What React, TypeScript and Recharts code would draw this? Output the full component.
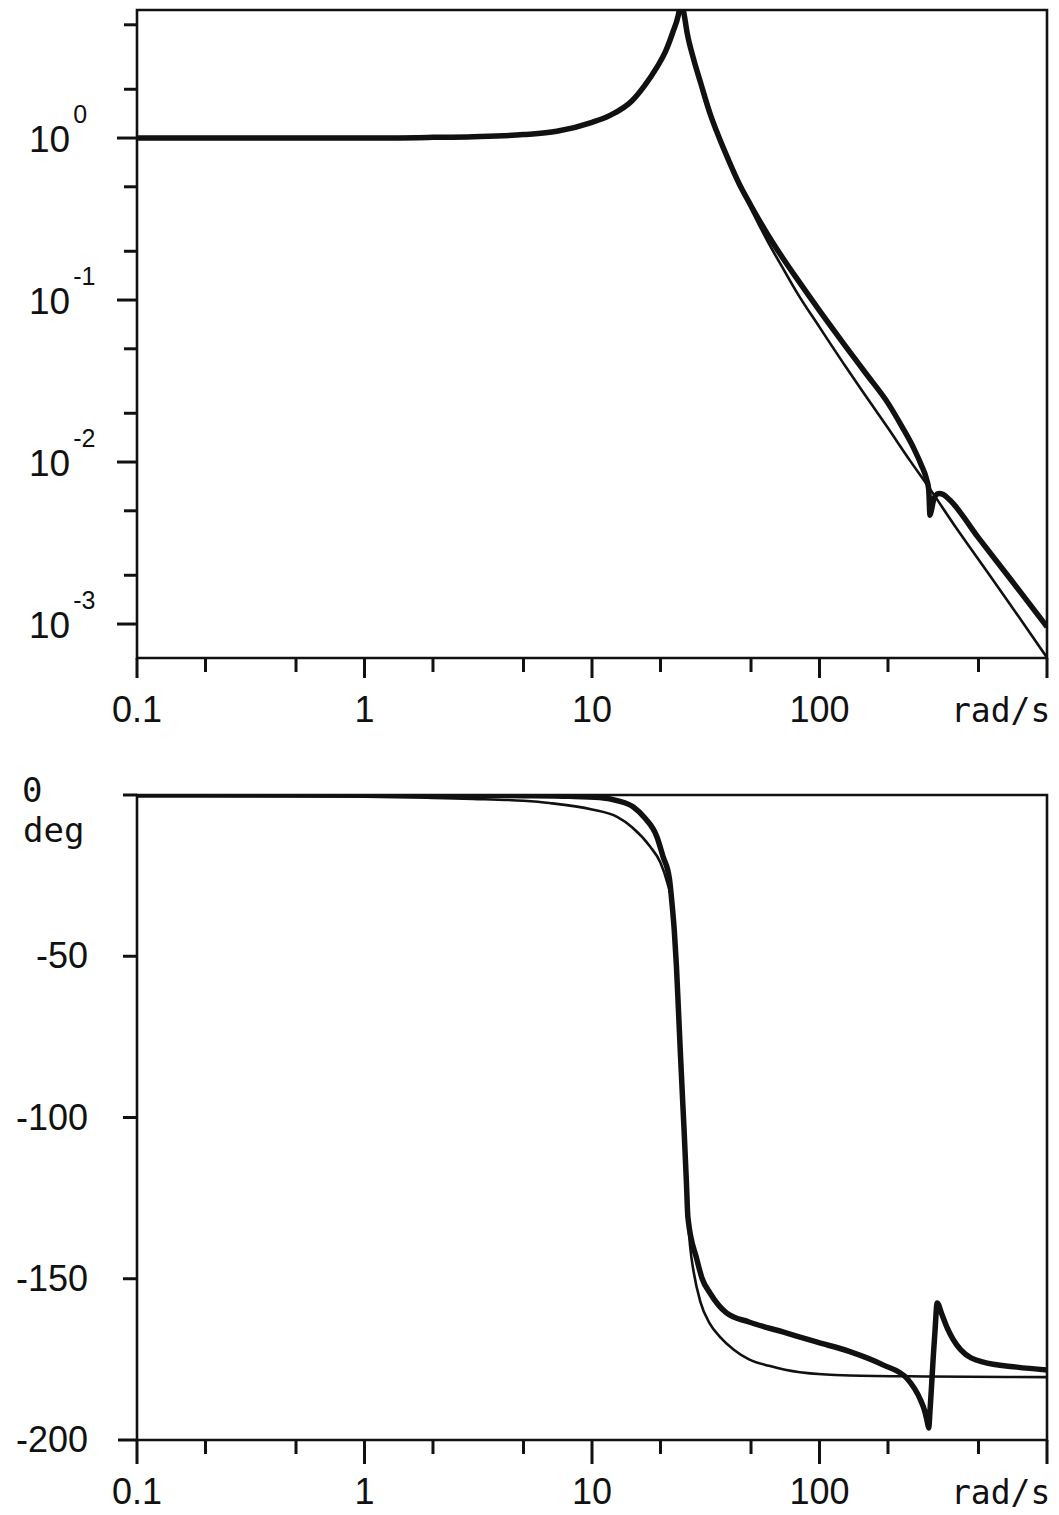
import React from 'react';
import { LineChart, Line, XAxis, YAxis, ReferenceArea } from 'recharts';

// ---------- axis tick definitions ----------
const freqTicks = [0.1, 0.2, 0.5, 1, 2, 5, 10, 20, 50, 100, 200, 500, 1000];
const freqMajor = [0.1, 1, 10, 100, 1000];
const freqLabels = ['0.1', '1', '10', '100', 'rad/s'];

const magTicks = [0.001, 0.002, 0.005, 0.01, 0.02, 0.05, 0.1, 0.2, 0.5, 1, 2, 5];
const magMajor = [0.001, 0.01, 0.1, 1];
const magExponents = ['-3', '-2', '-1', '0'];
const magDomain = [0.000617, 6.17];

const phaseTicks = [0, -50, -100, -150, -200];
const phaseLabels = ['0', '-50', '-100', '-150', '-200'];
const phaseDomain = [-200, 0];

// ---------- magnitude, thin curve ----------
const magThinFreq = [0.1, 0.3, 1, 2, 3, 5, 7, 10, 12, 15, 17, 19.3, 21, 22.6, 24, 24.6, 25.3, 26.2, 28, 30, 33, 35.3, 40, 44.4, 50, 60, 70, 80, 100, 130, 160, 200, 250, 300, 400, 500, 700, 1000];
const magThinValue = [1.0, 1.0, 1.0, 1.01, 1.02, 1.05, 1.1, 1.25, 1.38, 1.7, 2.1, 2.74, 3.4, 4.45, 5.8, 7.0, 6.0, 4.45, 3.05, 2.2, 1.42, 1.1, 0.72, 0.52, 0.365, 0.222, 0.152, 0.11, 0.068, 0.039, 0.0255, 0.0162, 0.0102, 0.0071, 0.0039, 0.0025, 0.00128, 0.00062];

// ---------- magnitude, thick curve ----------
const magThickFreq = [0.1, 0.3, 1, 2, 3, 5, 7, 10, 12, 15, 17, 19.3, 21, 22.6, 24, 24.6, 25.3, 26.2, 28, 30, 33, 35.3, 40, 44.4, 50, 60, 70, 80, 100, 130, 160, 200, 230, 260, 280, 295, 302, 306, 310, 316, 323, 335, 350, 375, 500, 700, 1000];
const magThickValue = [1.0, 1.0, 1.0, 1.01, 1.02, 1.05, 1.1, 1.25, 1.38, 1.7, 2.1, 2.74, 3.4, 4.45, 5.8, 7.0, 6.0, 4.45, 3.05, 2.2, 1.42, 1.1, 0.72, 0.52, 0.382, 0.246, 0.176, 0.134, 0.086, 0.052, 0.0352, 0.0231, 0.0166, 0.0121, 0.0096, 0.0079, 0.0068, 0.0047, 0.005, 0.0057, 0.0062, 0.0064, 0.0063, 0.0058, 0.0034, 0.00185, 0.00096];

// ---------- phase, thin curve ----------
const phaseThinFreq = [0.1, 0.3, 1, 2, 3, 5, 6.5, 10, 12.9, 15, 18, 20, 21.4, 22.5, 23, 23.5, 24, 24.5, 25, 25.4, 26, 26.4, 27, 28, 29.9, 33, 36.5, 42, 49, 60, 82, 136, 300, 1000];
const phaseThinValue = [-0.1, -0.3, -0.5, -0.9, -1.2, -1.8, -2.5, -4.5, -6.8, -10, -16, -21, -27, -34, -42, -53, -67, -81, -94, -104, -120, -131, -140, -148, -157, -164, -168, -172, -175, -177, -179, -180, -180.3, -180.5];

// ---------- phase, thick curve ----------
const phaseThickFreq = [0.1, 1, 3, 5, 8, 10.8, 13, 15.2, 17, 19.3, 20.5, 21.9, 22.5, 23, 23.5, 24, 24.5, 25, 25.4, 26, 26.4, 28.9, 30.5, 33, 39, 49, 69, 97, 136, 190, 243, 278, 290, 298, 302, 306, 311, 316, 322, 329, 345, 363, 417, 520, 738, 1000];
const phaseThickValue = [0, 0, -0.1, -0.2, -0.4, -0.8, -1.8, -3.7, -7, -13, -19, -26, -34, -42, -53, -67, -81, -94, -104, -120, -131, -144, -150, -154.4, -160.6, -163.4, -166.5, -169.6, -172.6, -176.7, -181, -187.6, -191, -194.5, -196.3, -191, -183, -174.6, -166, -157.5, -161, -165, -172, -175.8, -177.4, -178.3];

const zip = (f: number[], v: number[], key: string) => f.map((w, i) => ({ w, [key]: v[i] }));
const magThinData = zip(magThinFreq, magThinValue, 'm');
const magThickData = zip(magThickFreq, magThickValue, 'm');
const phaseThinData = zip(phaseThinFreq, phaseThinValue, 'p');
const phaseThickData = zip(phaseThickFreq, phaseThickValue, 'p');

const INK = '#111';
const SANS = '"Liberation Sans", Arial, sans-serif';
const MONO = '"DejaVu Sans Mono", "Liberation Mono", monospace';

const near = (a: number, b: number) => Math.abs(a - b) <= Math.abs(b) * 1e-6 + 1e-9;

const makeFreqTick = (majorLen: number) => (props: any) => {
  const { x, y, payload } = props;
  const v = payload.value;
  const idx = freqMajor.findIndex((m) => near(v, m));
  const major = idx >= 0;
  const label = major ? freqLabels[idx] : null;
  return (
    <g>
      <line x1={x} x2={x} y1={y} y2={y + (major ? majorLen : 14)} stroke={INK} strokeWidth={3} />
      {label === 'rad/s' ? (
        <text x={x - 96} y={y + 64} fontFamily={MONO} fontSize={33} fill={INK} textAnchor="start">
          {label}
        </text>
      ) : label ? (
        <text x={x} y={y + 64} fontFamily={SANS} fontSize={36} fill={INK} textAnchor="middle">
          {label}
        </text>
      ) : null}
    </g>
  );
};

const MagTick = (props: any) => {
  const { x, y, payload } = props;
  const v = payload.value;
  const idx = magMajor.findIndex((m) => near(v, m));
  const major = idx >= 0;
  return (
    <g>
      <line x1={x - (major ? 20 : 13)} x2={x} y1={y} y2={y} stroke={INK} strokeWidth={3} />
      {major && (
        <text x={x - 108} y={y + 14} fontFamily={SANS} fontSize={37} fill={INK} textAnchor="start">
          10
          <tspan dx={3} dy={-29} fontSize={25}>
            {magExponents[idx]}
          </tspan>
        </text>
      )}
    </g>
  );
};

const PhaseTick = (props: any) => {
  const { x, y, payload } = props;
  const v = payload.value;
  const idx = phaseTicks.findIndex((m) => near(v, m));
  const label = idx >= 0 ? phaseLabels[idx] : '';
  return (
    <g>
      <line x1={x - (v === -200 ? 19 : 14)} x2={x} y1={y} y2={y} stroke={INK} strokeWidth={3} />
      {v === 0 ? (
        <g>
          <text x={x - 115} y={y + 7} fontFamily={MONO} fontSize={34} fill={INK}>
            {label}
          </text>
          <text x={x - 114} y={y + 47} fontFamily={MONO} fontSize={34} fill={INK}>
            deg
          </text>
        </g>
      ) : (
        <text x={x - 49} y={y + 12} fontFamily={SANS} fontSize={36} fill={INK} textAnchor="end">
          {label}
        </text>
      )}
    </g>
  );
};

const MagnitudeChart = () => (
  <LineChart width={1059} height={740} margin={{ top: 10, right: 12, bottom: 15, left: 0 }}>
    <XAxis
      dataKey="w"
      type="number"
      scale="log"
      domain={[0.1, 1000]}
      ticks={freqTicks}
      interval={0}
      allowDataOverflow
      axisLine={false}
      tickLine={false}
      tickSize={0}
      tickMargin={0}
      height={67}
      tick={makeFreqTick(20)}
    />
    <YAxis
      type="number"
      scale="log"
      domain={magDomain}
      ticks={magTicks}
      interval={0}
      allowDataOverflow
      axisLine={false}
      tickLine={false}
      tickSize={0}
      tickMargin={0}
      width={137}
      tick={MagTick}
    />
    <ReferenceArea x1={0.1} x2={1000} y1={magDomain[0]} y2={magDomain[1]} fill="none" stroke={INK} strokeWidth={2.6} ifOverflow="visible" />
    <Line data={magThinData} dataKey="m" type="monotone" stroke={INK} strokeWidth={2.6} dot={false} isAnimationActive={false} />
    <Line data={magThickData} dataKey="m" type="monotone" stroke={INK} strokeWidth={5.5} dot={false} isAnimationActive={false} />
  </LineChart>
);

const PhaseChart = () => (
  <LineChart width={1059} height={775} margin={{ top: 55, right: 12, bottom: 15, left: 0 }}>
    <XAxis
      dataKey="w"
      type="number"
      scale="log"
      domain={[0.1, 1000]}
      ticks={freqTicks}
      interval={0}
      allowDataOverflow
      axisLine={false}
      tickLine={false}
      tickSize={0}
      tickMargin={0}
      height={60}
      tick={makeFreqTick(24)}
    />
    <YAxis
      type="number"
      domain={phaseDomain}
      ticks={phaseTicks}
      interval={0}
      allowDataOverflow
      axisLine={false}
      tickLine={false}
      tickSize={0}
      tickMargin={0}
      width={137}
      tick={PhaseTick}
    />
    <ReferenceArea x1={0.1} x2={1000} y1={phaseDomain[0]} y2={phaseDomain[1]} fill="none" stroke={INK} strokeWidth={2.6} ifOverflow="visible" />
    <Line data={phaseThinData} dataKey="p" type="monotone" stroke={INK} strokeWidth={2.6} dot={false} isAnimationActive={false} />
    <Line data={phaseThickData} dataKey="p" type="monotone" stroke={INK} strokeWidth={5.5} dot={false} isAnimationActive={false} />
  </LineChart>
);

export default function App() {
  return (
    <div style={{ position: 'absolute', left: 0, top: 0, width: 1059, height: 1515, background: '#fff' }}>
      <div style={{ position: 'absolute', left: 0, top: 0 }}>
        <MagnitudeChart />
      </div>
      <div style={{ position: 'absolute', left: 0, top: 740 }}>
        <PhaseChart />
      </div>
    </div>
  );
}
